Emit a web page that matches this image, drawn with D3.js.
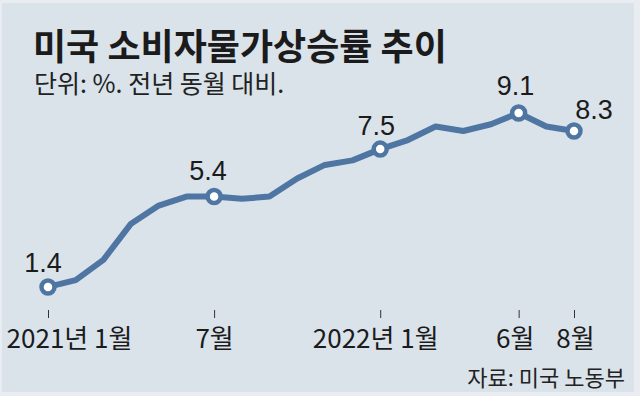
<!DOCTYPE html>
<html>
<head>
<meta charset="utf-8">
<script src="https://cdn.jsdelivr.net/npm/d3@7"></script>
<style>
  html, body { margin: 0; padding: 0; background: #e9edf2; }
  svg { display: block; }
</style>
</head>
<body>
<div id="chart"></div>
<script>
// 월별 소비자물가 상승률 (전년 동월 대비, %)
const months = ["2021-01","2021-02","2021-03","2021-04","2021-05","2021-06","2021-07","2021-08","2021-09","2021-10",
  "2021-11","2021-12","2022-01","2022-02","2022-03","2022-04","2022-05","2022-06","2022-07","2022-08"];
const cpi = [1.4, 1.7, 2.6, 4.2, 5.0, 5.4, 5.4, 5.3, 5.4, 6.2, 6.8, 7.0, 7.5, 7.9, 8.5, 8.3, 8.6, 9.1, 8.5, 8.3];

// 축 눈금 (월 인덱스 → 라벨)
const tickIdx = [0, 6, 12, 17, 19];
const tickLabels = ["2021년 1월", "7월", "2022년 1월", "6월", "8월"];

// 값 표시할 지점
const markedIdx = [0, 6, 12, 17, 19];

const width = 640, height = 396;

const svg = d3.select("#chart").append("svg")
  .attr("width", width)
  .attr("height", height);

// 배경
svg.append("rect")
  .attr("x", 2).attr("y", 3)
  .attr("width", 632).attr("height", 389)
  .attr("fill", "#dae2ea");

const x = d3.scaleLinear().domain([0, months.length - 1]).range([48, 574]);
const y = d3.scaleLinear().domain([0, 10]).range([318.6, 92.6]);

const krFont = "'Noto Sans CJK KR', sans-serif";
const lineColor = "#4f76a3";

// 제목
svg.append("text")
  .attr("x", 33).attr("y", 60)
  .attr("font-family", krFont)
  .attr("font-weight", 700)
  .attr("font-size", 36)
  .attr("fill", "#1b1b1b")
  .text("미국 소비자물가상승률 추이");

svg.append("text")
  .attr("x", 34).attr("y", 93)
  .attr("font-family", krFont)
  .attr("font-size", 25)
  .attr("fill", "#222")
  .text("단위: %. 전년 동월 대비.");

// x축 눈금
const axis = d3.axisBottom(x)
  .tickValues(tickIdx)
  .tickFormat((d, i) => tickLabels[i])
  .tickSize(8)
  .tickPadding(12);

const gx = svg.append("g")
  .attr("transform", "translate(0,310)")
  .call(axis);
gx.select(".domain").remove();
gx.selectAll(".tick line").attr("stroke", "#333").attr("stroke-width", 1);
const tickDx = [21, 0, -5, -4, 1];
gx.selectAll(".tick text")
  .attr("dx", (d, i) => tickDx[i])
  .attr("font-family", "'Liberation Sans Narrow', 'Noto Sans CJK KR', sans-serif")
  .attr("font-size", 26)
  .attr("fill", "#1b1b1b");

// 선
const line = d3.line()
  .x((d, i) => x(i))
  .y(d => y(d));

svg.append("path")
  .datum(cpi)
  .attr("d", line)
  .attr("fill", "none")
  .attr("stroke", lineColor)
  .attr("stroke-width", 6)
  .attr("stroke-linejoin", "round")
  .attr("stroke-linecap", "round");

// 표시 점
svg.selectAll("circle.mark")
  .data(markedIdx)
  .enter()
  .append("circle")
  .attr("class", "mark")
  .attr("cx", d => x(d))
  .attr("cy", d => y(cpi[d]))
  .attr("r", 6.5)
  .attr("fill", "#fff")
  .attr("stroke", lineColor)
  .attr("stroke-width", 4.5);

// 값 라벨 (라벨 위치 보정)
const labelDx = { 0: -5, 6: -6, 12: -4, 17: -3, 19: 20 };
const labelDy = { 0: -15, 6: -17, 12: -14, 17: -18, 19: -12 };

svg.selectAll("text.val")
  .data(markedIdx)
  .enter()
  .append("text")
  .attr("class", "val")
  .attr("x", d => x(d) + labelDx[d])
  .attr("y", d => y(cpi[d]) + labelDy[d])
  .attr("text-anchor", "middle")
  .attr("font-family", "'Liberation Sans', Arial, sans-serif")
  .attr("font-size", 27)
  .attr("fill", "#1b1b1b")
  .text(d => cpi[d].toFixed(1));

// 출처
svg.append("text")
  .attr("x", 625).attr("y", 386)
  .attr("text-anchor", "end")
  .attr("font-family", krFont)
  .attr("font-size", 22)
  .attr("fill", "#222")
  .text("자료: 미국 노동부");
</script>
</body>
</html>
